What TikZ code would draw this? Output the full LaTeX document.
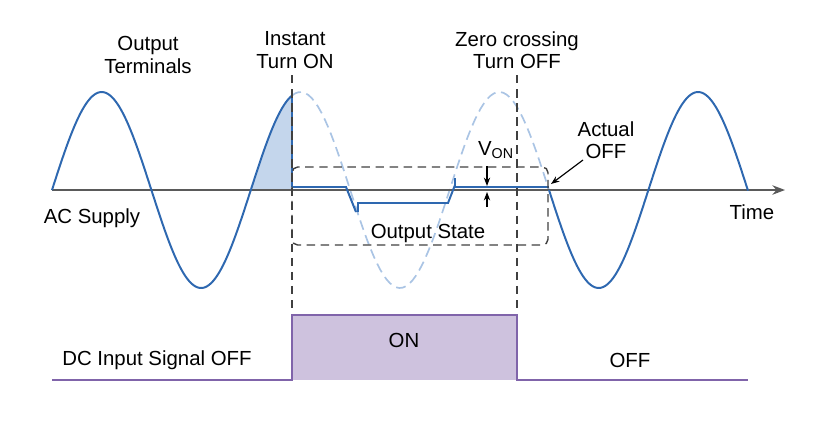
\documentclass[tikz,border=0pt]{standalone}
\usepackage{fontspec}
\setmainfont{Liberation Sans}
\usetikzlibrary{arrows.meta}
\definecolor{wave}{RGB}{46,104,176}
\definecolor{ghost}{RGB}{170,196,228}
\definecolor{lightblue}{RGB}{196,214,236}
\definecolor{sig}{RGB}{128,100,170}
\definecolor{sigfill}{RGB}{206,194,222}
\definecolor{axisgray}{RGB}{90,90,90}
\tikzset{
  lbl/.style={font=\fontsize{14.5}{16}\selectfont, align=center, text=black},
  guide/.style={dashed, dash pattern=on 6pt off 4pt, line width=1pt, black!75},
  pin/.style={-{Stealth[length=6pt]}, line width=0.8pt, black},
  trace/.style={wave, line width=1.4pt}
}
\begin{document}
\begin{tikzpicture}[x=0.025cm, y=-0.025cm]
        \useasboundingbox (0,0) rectangle (828,430);
        % shaded part before turn on
        \fill[lightblue] (251,190) -- plot[domain=251:292, samples=30] (\x, {190-98*sin((\x-52)/99.4*180)}) -- (292,190) -- cycle;
        % ghost sine under the output state
        \draw[ghost, line width=1.2pt, dashed, dash pattern=on 7pt off 4pt] plot[domain=292:549, samples=80] (\x, {190-98*sin((\x-52)/99.4*180)});
        % time axis
        \coordinate (t0) at (52,190);
        \coordinate (t1) at (785,190);
        \draw[-{Stealth[length=9pt]}, line width=1.2pt, axisgray] (t0) -- (t1);
        % AC supply
        \draw[trace] plot[domain=52:292, samples=120] (\x, {190-98*sin((\x-52)/99.4*180)}) -- (292,187);
        \draw[trace] plot[domain=549:748, samples=100] (\x, {190-98*sin((\x-52)/99.4*180)});
        % output state
        \draw[trace] (292,187) -- (346,187) -- (356,212);
        \draw[trace] (358,212) -- (358,203) -- (448,203) -- (455,185);
        \draw[trace] (455,178) -- (455,187) -- (549,187);
        % dashed box and markers
        \draw[guide, rounded corners=4pt] (292,167) rectangle (548,245);
        \coordinate (on1) at (292,75);
        \coordinate (on2) at (292,382);
        \coordinate (off1) at (517,75);
        \coordinate (off2) at (517,382);
        \draw[guide] (on1) -- (on2);
        \draw[guide] (off1) -- (off2);
        % DC input
        \fill[sigfill] (292,315) rectangle (517,380);
        \draw[sig, line width=1.4pt] (52,380) -- (292,380) -- (292,315) -- (517,315) -- (517,380) -- (748,380);
        % labels
        \node[lbl] (term) at (148,55) {Output\\Terminals};
        \node[lbl] (inst) at (295,50) {Instant\\Turn ON};
        \node[lbl] (zero) at (517,50) {Zero crossing\\Turn OFF};
        \node[lbl] (act) at (606,140) {Actual\\OFF};
        \node[lbl] (von) at (496,150) {V\textsubscript{ON}};
        \node[lbl] (acs) at (92,218) {AC Supply};
        \node[lbl] (time) at (752,212) {Time};
        \node[lbl] (ost) at (428,233) {Output State};
        \node[lbl] (onl) at (404,340) {ON};
        \node[lbl] (dcin) at (157,360) {DC Input Signal OFF};
        \node[lbl] (offl) at (630,360) {OFF};
        \coordinate (aoff) at (551,184);
        \coordinate (acta) at (583,160);
        \coordinate (va) at (487,166);
        \coordinate (vb) at (487,186);
        \coordinate (vc) at (487,207);
        \coordinate (vd) at (487,192);
        \draw[pin] (acta) -- (aoff);
        \draw[pin] (va) -- (vb);
        \draw[pin] (vc) -- (vd);
\end{tikzpicture}
\end{document}
